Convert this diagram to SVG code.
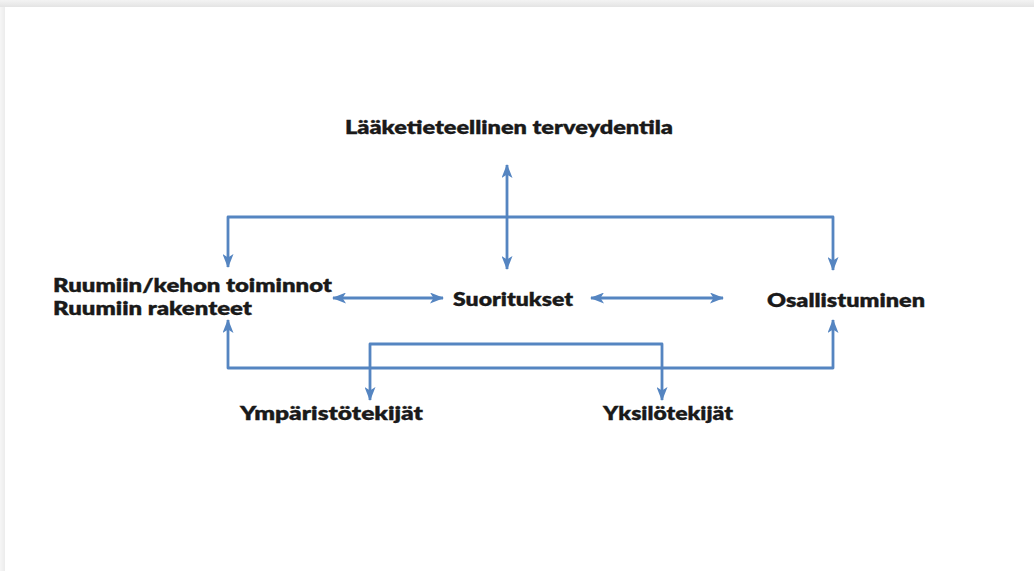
<svg xmlns="http://www.w3.org/2000/svg" width="1034" height="571" viewBox="0 0 1034 571">
  <defs>
    <linearGradient id="topBand" x1="0" y1="0" x2="0" y2="1">
      <stop offset="0" stop-color="#f3f3f3"/>
      <stop offset="1" stop-color="#e4e4e4"/>
    </linearGradient>
    <linearGradient id="leftBand" x1="0" y1="0" x2="1" y2="0">
      <stop offset="0" stop-color="#f6f6f6"/>
      <stop offset="1" stop-color="#ececec"/>
    </linearGradient>
    <marker id="head" viewBox="0 0 14 11" refX="13" refY="5.5" markerWidth="14" markerHeight="11" markerUnits="userSpaceOnUse" orient="auto-start-reverse">
      <path d="M0,0 L14,5.5 L0,11 L3.5,5.5 Z" fill="#5585c1"/>
    </marker>
    <style>
      .lbl { font-family: Lato, "Open Sans", "Liberation Sans", sans-serif; font-weight: 800; font-size: 19px; fill: #1a1a1a; stroke: #1a1a1a; stroke-width: 0.3; }
      .con { fill: none; stroke: #5585c1; stroke-width: 2.8; stroke-linejoin: round; }
    </style>
  </defs>

  <!-- page background with slide frame -->
  <rect x="0" y="0" width="1034" height="571" fill="#ffffff"/>
  <rect x="0" y="0" width="1034" height="7" fill="url(#topBand)"/>
  <rect x="0" y="7" width="5" height="564" fill="url(#leftBand)"/>

  <!-- connectors -->
  <g id="connectors">
    <line class="con" x1="507" y1="165" x2="507" y2="269" marker-start="url(#head)" marker-end="url(#head)"/>
    <path class="con" d="M228,267 V217 H833 V270" marker-start="url(#head)" marker-end="url(#head)"/>
    <path class="con" d="M228,320 V368 H833 V320" marker-start="url(#head)" marker-end="url(#head)"/>
    <path class="con" d="M370,400 V344 H662 V400" marker-start="url(#head)" marker-end="url(#head)"/>
    <line class="con" x1="333" y1="298" x2="443" y2="298" marker-start="url(#head)" marker-end="url(#head)"/>
    <line class="con" x1="591" y1="298" x2="723" y2="298" marker-start="url(#head)" marker-end="url(#head)"/>
  </g>

  <!-- nodes -->
  <g id="node-terveydentila">
    <text class="lbl" x="345" y="134" textLength="328" lengthAdjust="spacingAndGlyphs">Lääketieteellinen terveydentila</text>
  </g>
  <g id="node-ruumiin">
    <text class="lbl" x="53" y="292" textLength="279" lengthAdjust="spacingAndGlyphs">Ruumiin/kehon toiminnot</text>
    <text class="lbl" x="53" y="315" textLength="199" lengthAdjust="spacingAndGlyphs">Ruumiin rakenteet</text>
  </g>
  <g id="node-suoritukset">
    <text class="lbl" x="453" y="306" textLength="120" lengthAdjust="spacingAndGlyphs">Suoritukset</text>
  </g>
  <g id="node-osallistuminen">
    <text class="lbl" x="767" y="307" textLength="158" lengthAdjust="spacingAndGlyphs">Osallistuminen</text>
  </g>
  <g id="node-ymparisto">
    <text class="lbl" x="240" y="420" textLength="183" lengthAdjust="spacingAndGlyphs">Ympäristötekijät</text>
  </g>
  <g id="node-yksilo">
    <text class="lbl" x="603" y="420" textLength="130" lengthAdjust="spacingAndGlyphs">Yksilötekijät</text>
  </g>
</svg>
